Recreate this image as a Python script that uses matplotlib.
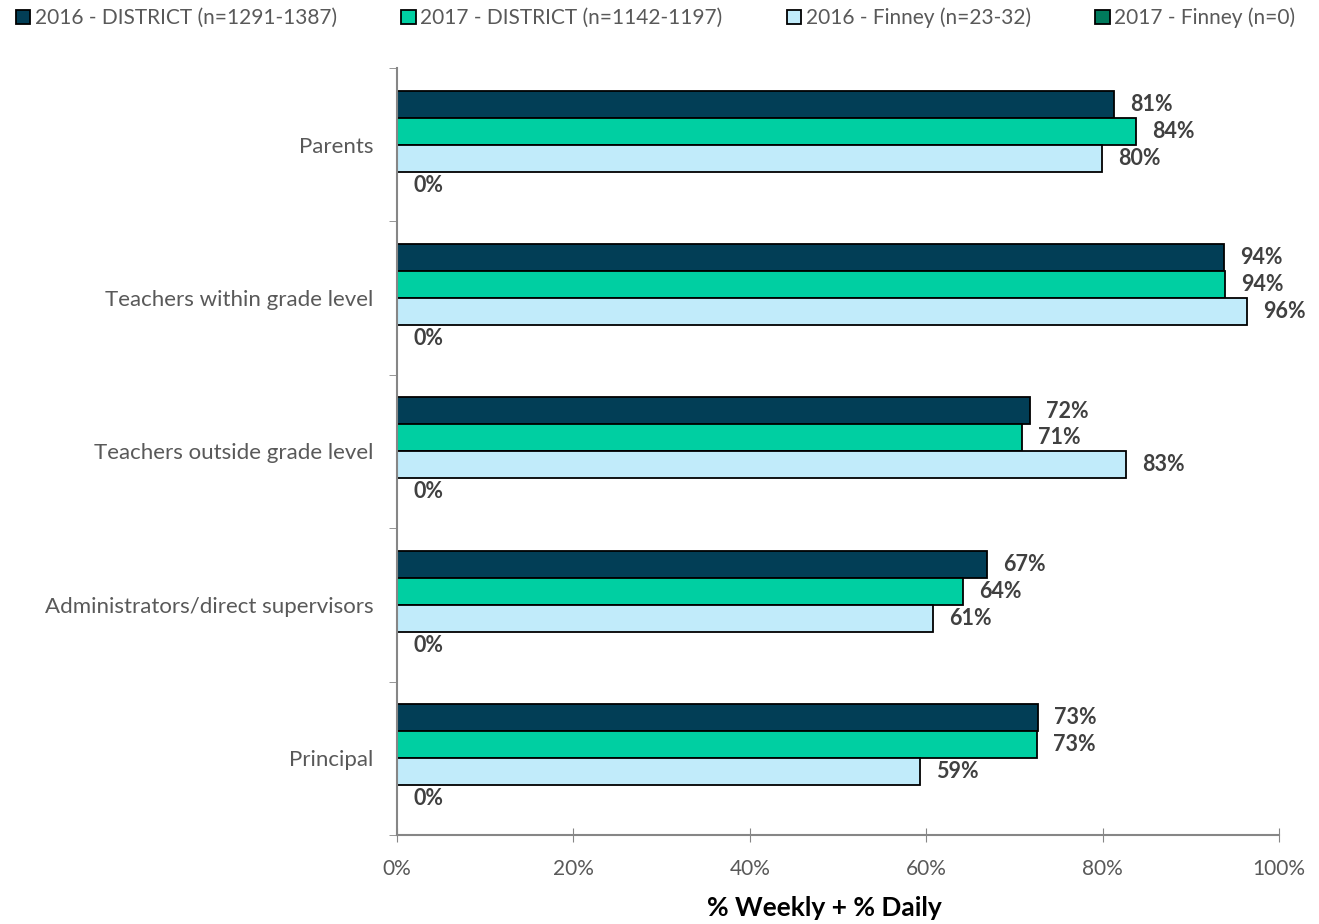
import matplotlib
matplotlib.use("Agg")
import matplotlib.pyplot as plt
from matplotlib.ticker import FixedLocator, FuncFormatter
import numpy as np

plt.rcParams['font.family'] = ['Lato', 'DejaVu Sans']

categories = ["Parents", "Teachers within grade level", "Teachers outside grade level",
              "Administrators/direct supervisors", "Principal"]
series_names = ["2016 - DISTRICT (n=1291-1387)", "2017 - DISTRICT (n=1142-1197)",
                "2016 - Finney (n=23-32)", "2017 - Finney (n=0)"]
district_2016 = [81.3, 93.8, 71.8, 66.9, 72.7]
district_2017 = [83.8, 93.9, 70.9, 64.2, 72.6]
finney_2016 = [79.9, 96.4, 82.7, 60.8, 59.3]
finney_2017 = [0, 0, 0, 0, 0]
x_ticks = [0, 20, 40, 60, 80, 100]

series = [district_2016, district_2017, finney_2016, finney_2017]
colors = ["#023E56", "#00CFA2", "#C1EBFA", "#007A5C"]

fig = plt.figure(figsize=(13.19, 9.24), dpi=100)
ax = fig.add_axes([397 / 1319, 1 - 835 / 924, (1279 - 397) / 1319, (835 - 68) / 924])

n = len(categories)
y = np.arange(n)
h = 27 / 153.4
offsets = (np.arange(4) - 1.5) * h

for i, (vals, col, name) in enumerate(zip(series, colors, series_names)):
    ypos = y + offsets[i]
    ax.barh(ypos, vals, height=h, color=col, edgecolor="black", linewidth=1.3, label=name)
    for yy, v in zip(ypos, vals):
        ax.annotate(f"{round(v):.0f}%", (v, yy), xytext=(16, 0), textcoords="offset pixels",
                    ha="left", va="center", fontsize=15.5, fontweight="bold", color="#404040")

ax.set_xlim(0, 100)
ax.set_ylim(n - 0.5, -0.5)
ax.set_yticks(y)
ax.set_yticklabels(categories, fontsize=16, color="#595959")
ax.yaxis.set_minor_locator(FixedLocator(np.arange(-0.5, n, 1.0)))
ax.tick_params(axis="y", which="major", length=0, pad=17)
ax.tick_params(axis="y", which="minor", length=6, color="#868686", direction="out")
ax.set_xticks(x_ticks)
ax.xaxis.set_major_formatter(FuncFormatter(lambda v, p: f"{v:.0f}%"))
ax.tick_params(axis="x", length=10, direction="inout", color="#868686", labelsize=15,
               labelcolor="#595959", pad=12)
for s in ["top", "right"]:
    ax.spines[s].set_visible(False)
for s in ["left", "bottom"]:
    ax.spines[s].set_color("#868686")
    ax.spines[s].set_linewidth(1.5)

ax.set_xlabel("% Weekly + % Daily", fontsize=19, fontweight="bold", color="black", labelpad=14)
ax.xaxis.set_label_coords(0.485, -0.08)

handles, labels = ax.get_legend_handles_labels()
fig.legend(handles, labels, loc="upper center", bbox_to_anchor=(0.497, 1.012), ncol=4,
           frameon=False, fontsize=15, labelcolor="#595959", handlelength=0.7, handleheight=0.7,
           handletextpad=0.2, columnspacing=3.1)

fig.savefig("out.png", dpi=100)
